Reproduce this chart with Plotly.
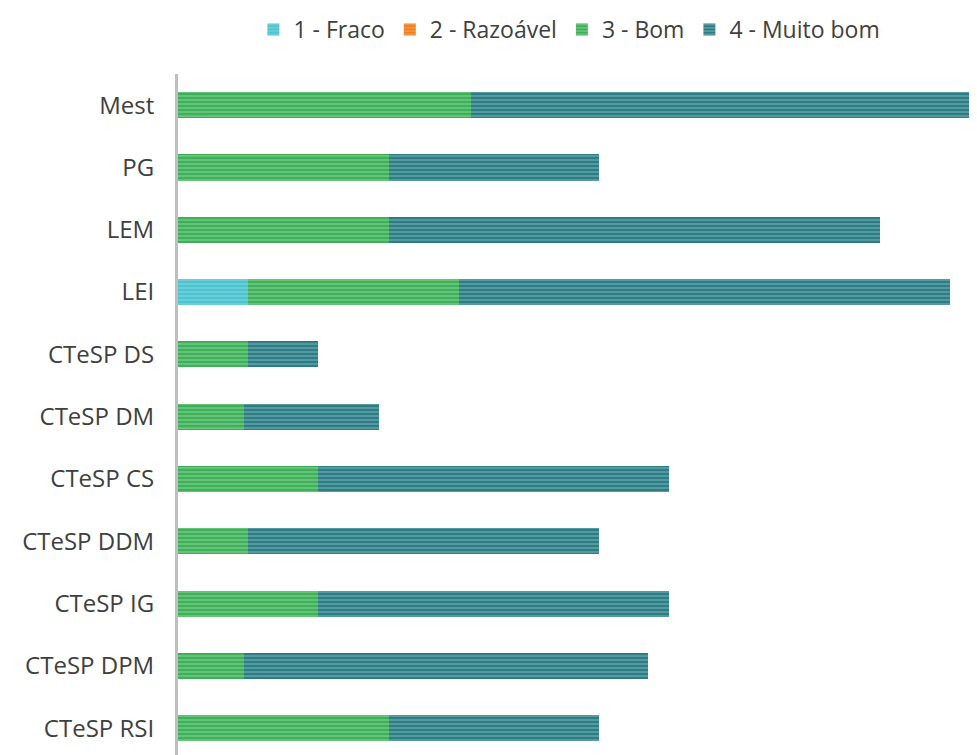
import plotly.graph_objects as go

categories = ["Mest", "PG", "LEM", "LEI", "CTeSP DS", "CTeSP DM", "CTeSP CS",
              "CTeSP DDM", "CTeSP IG", "CTeSP DPM", "CTeSP RSI"]
series_names = ["1 - Fraco", "2 - Razoável", "3 - Bom", "4 - Muito bom"]
fraco = [0, 0, 0, 1, 0, 0, 0, 0, 0, 0, 0]
razoavel = [0, 0, 0, 0, 0, 0, 0, 0, 0, 0, 0]
bom = [4.17, 3, 3, 3, 1, 0.94, 2, 1, 2, 0.94, 3]
muito_bom = [8, 3, 7, 7, 1, 1.92, 5, 5, 5, 5.75, 3]

base_colors = ["#4fc3cf", "#f07f22", "#3fb05a", "#2f7d84"]
stripe_colors = ["#8fe0e8", "#ffb070", "#9be0a8", "#8fc6ca"]

fig = go.Figure()
for name, vals, bc, sc in zip(series_names, [fraco, razoavel, bom, muito_bom],
                              base_colors, stripe_colors):
    fig.add_trace(go.Bar(
        y=categories, x=vals, name=name, orientation="h",
        marker=dict(color=bc, line=dict(width=0),
                    pattern=dict(shape="-", fgcolor=sc, bgcolor=bc,
                                 size=4, solidity=0.4, fillmode="overlay")),
        hoverinfo="skip",
    ))

fig.update_layout(
    barmode="stack",
    bargap=0.58,
    width=977, height=755,
    margin=dict(l=170, r=0, t=66, b=8),
    plot_bgcolor="white", paper_bgcolor="white",
    font=dict(family="Open Sans", size=24, color="#404040"),
    showlegend=True,
    legend=dict(orientation="h", x=0.485, xanchor="center",
                yref="container", y=1.0, yanchor="top",
                font=dict(family="Open Sans", size=23, color="#404040"),
                traceorder="normal", itemwidth=30),
    xaxis=dict(range=[0, 11.38 * 807 / 799], showticklabels=False, showgrid=False,
               zeroline=False, showline=False),
    yaxis=dict(type="category", categoryorder="array", categoryarray=categories,
               range=[10.43, -0.5], showgrid=False, zeroline=False,
               showline=True, linecolor="#bfbfbf", linewidth=3,
               ticks="", ticklabelstandoff=16),
)

fig.write_html("out.html")
